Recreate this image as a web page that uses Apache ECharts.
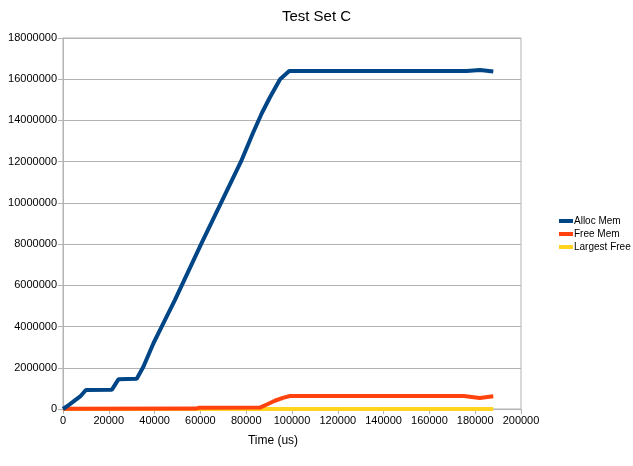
<!DOCTYPE html>
<html>
<head>
<meta charset="utf-8">
<script src="https://cdn.jsdelivr.net/npm/echarts@6/dist/echarts.min.js"></script>
<style>
  html, body { margin: 0; padding: 0; background: #fff; }
  #chart { width: 633px; height: 466px; }
</style>
</head>
<body>
<div id="chart"></div>
<script>
// 数据: [time (us), bytes]
const seriesNames = ['Alloc Mem', 'Free Mem', 'Largest Free']

const allocMem = [
  [0, 0], [2600, 200000], [5200, 420000], [7800, 640000], [10000, 920000],
  [21300, 930000], [24200, 1440000], [32200, 1470000], [35100, 2050000],
  [39500, 3190000], [43100, 4000000], [48900, 5290000], [60300, 8000000],
  [77700, 12000000], [83000, 13400000], [86800, 14350000], [90500, 15150000],
  [94800, 16000000], [98800, 16400000],
  [176300, 16400000], [182100, 16450000], [187900, 16380000]
]

const freeMem = [
  [0, 10000], [58000, 20000], [59500, 60000], [86000, 70000],
  [89000, 220000], [92500, 400000], [96000, 540000], [99100, 630000],
  [175000, 630000], [182000, 530000], [187900, 620000]
]

const largestFree = [
  [0, 0], [187900, 0]
]

const colors = ['#004586', '#ff420e', '#ffd320']

const chart = echarts.init(document.getElementById('chart'))

const font = 'Liberation Sans, Arial, sans-serif'

const option = {
  backgroundColor: '#fff',
  animation: false,
  color: colors,
  textStyle: { fontFamily: font },
  title: {
    text: 'Test Set C',
    left: 'center',
    top: 4,
    textStyle: { fontFamily: font, fontSize: 15, fontWeight: 'normal', color: '#000' }
  },
  legend: {
    orient: 'vertical',
    left: 554,
    top: 211,
    itemWidth: 14,
    itemHeight: 4,
    itemGap: 3,
    icon: 'rect',
    textStyle: { fontFamily: font, fontSize: 10, color: '#000', padding: [0, 0, 0, -4] },
    data: seriesNames
  },
  grid: {
    left: 63, right: 112, top: 38, bottom: 57,
    show: true, borderColor: '#b3b3b3', borderWidth: 1
  },
  xAxis: {
    type: 'value',
    min: 0, max: 200000, interval: 20000,
    name: 'Time (us)',
    nameLocation: 'middle',
    nameGap: 26,
    nameTextStyle: { fontFamily: font, fontSize: 12, color: '#000', padding: [0, 38, 0, 0] },
    axisLine: { show: true, lineStyle: { color: '#b3b3b3', width: 1 } },
    axisTick: { show: true, length: 5, lineStyle: { color: '#b3b3b3' } },
    axisLabel: { fontFamily: font, fontSize: 11, color: '#000', margin: 6, formatter: v => String(v) },
    splitLine: { show: false }
  },
  yAxis: {
    type: 'value',
    min: 0, max: 18000000, interval: 2000000,
    axisLine: { show: true, lineStyle: { color: '#b3b3b3', width: 1 } },
    axisTick: { show: true, length: 5, lineStyle: { color: '#b3b3b3' } },
    axisLabel: { fontFamily: font, fontSize: 11, color: '#000', margin: 6, formatter: v => String(v) },
    splitLine: { show: true, lineStyle: { color: '#b3b3b3', width: 1 } }
  },
  series: [
    {
      name: seriesNames[0], type: 'line', data: allocMem, z: 4,
      showSymbol: false, lineStyle: { width: 4, color: colors[0] }
    },
    {
      name: seriesNames[1], type: 'line', data: freeMem, z: 3,
      showSymbol: false, lineStyle: { width: 4, color: colors[1] }
    },
    {
      name: seriesNames[2], type: 'line', data: largestFree, z: 2,
      showSymbol: false, lineStyle: { width: 4, color: colors[2] }
    }
  ]
}

chart.setOption(option)
</script>
</body>
</html>
